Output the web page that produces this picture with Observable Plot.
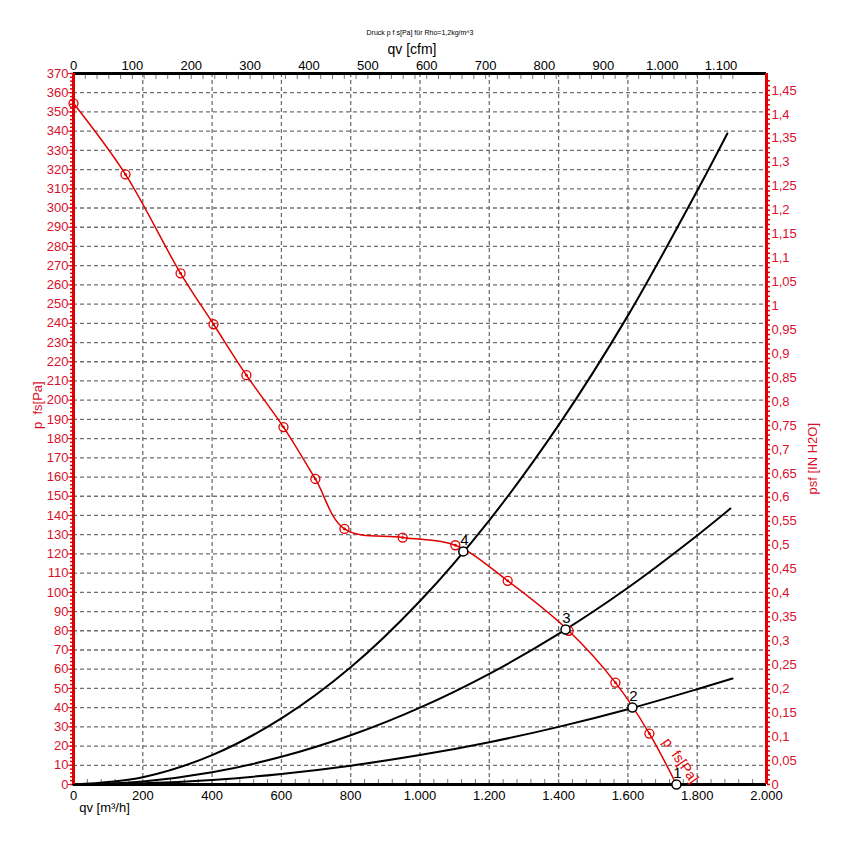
<!DOCTYPE html>
<html><head><meta charset="utf-8">
<script src="https://cdn.jsdelivr.net/npm/d3@7"></script>
<script src="https://cdn.jsdelivr.net/npm/@observablehq/plot@0.6"></script>
<style>body{margin:0;background:#fff} svg{display:block}</style>
</head><body><div id="chart"></div>
<script>
// ---- data ----
const fanQ = [0, 150, 309, 404, 499, 606, 698, 782, 950, 1102, 1253, 1429, 1564, 1662, 1740];
const fanP = [354.5, 317.5, 266, 239.5, 213, 186, 159, 133, 128.5, 124.5, 106, 80, 53, 26.5, 0];
const markerCount = 14; // red ring markers (the last point is operating point 1)

const opLabels = ["1", "2", "3", "4"];
const opQ = [1740, 1613, 1420, 1125];
const opP = [0, 40.1, 80.7, 121.3];

const sys1Q = [0, 400, 800, 1200, 1600, 1900];
const sys1P = [0, 0, 0, 0, 0, 0];
const sys2Q = [0, 200, 400, 600, 800, 1000, 1200, 1400, 1600, 1800, 1902];
const sys2P = [0, 0.6, 2.4, 5.5, 9.8, 15.3, 22, 30, 39.2, 49.6, 55.2];
const sys3Q = [0, 200, 400, 600, 800, 1000, 1200, 1400, 1600, 1800, 1896];
const sys3P = [0, 1.6, 6.4, 14.4, 25.6, 40, 57.6, 78.4, 102.4, 129.6, 143.6];
const sys4Q = [0, 200, 400, 600, 800, 1000, 1200, 1400, 1600, 1800, 1887];
const sys4P = [0, 3.8, 15.3, 34.4, 61, 95.5, 137.5, 187, 244, 309, 338.8];

// tick labels
const xTicks = [0, 200, 400, 600, 800, 1000, 1200, 1400, 1600, 1800, 2000];
const yTicks = d3.range(0, 371, 10);
const cfmTicks = [0, 100, 200, 300, 400, 500, 600, 700, 800, 900, 1000, 1100];
const inTicks = d3.range(0, 30).map(i => +(i * 0.05).toFixed(2));

const titleText = "Druck p f s[Pa] für Rho=1,2kg/m^3";
const topLabel = "qv [cfm]";
const bottomLabel = "qv [m³/h]";
const leftLabel = "p  fs[Pa]";
const rightLabel = "psf [IN H2O]";
const curveLabel = "p  fs[Pa]";

// unit conversions
const CFM = 1.69901;    // m³/h per cfm
const INH2O = 249.089;  // Pa per inch H2O

const RED = "#e00000";
const TRED = "#d8102c";

const de = d3.formatLocale({decimal: ",", thousands: ".", grouping: [3], currency: ["", "€"]});
const fmtThousands = de.format(",d");
const fmtComma = v => String(+v.toFixed(2)).replace(".", ",");

const toRows = (Q, P) => Q.map((q, i) => ({q, p: P[i]}));
const fan = toRows(fanQ, fanP);
const markers = fan.slice(0, markerCount);
const ops = opQ.map((q, i) => ({q, p: opP[i], label: opLabels[i]}));
const systems = [toRows(sys1Q, sys1P), toRows(sys2Q, sys2P), toRows(sys3Q, sys3P), toRows(sys4Q, sys4P)];

const gridStyle = {stroke: "#707070", strokeOpacity: 1, strokeDasharray: "4,3", strokeWidth: 1.3};

const chart = Plot.plot({
  width: 843, height: 859,
  marginLeft: 73, marginRight: 77, marginTop: 73, marginBottom: 75,
  style: {fontFamily: "'Liberation Sans', Arial, sans-serif", fontSize: "13px", background: "#fff", overflow: "visible"},
  x: {domain: [0, 2000], axis: null},
  y: {domain: [0, 370], axis: null},
  marks: [
    Plot.gridY(yTicks.filter(d => d > 0 && d < 370), gridStyle),
    Plot.gridX(xTicks.filter(d => d > 0 && d < 2000), gridStyle),

    // minor ticks
    Plot.axisX(d3.range(0, 2001, 40), {anchor: "bottom", tickSize: -5, tickFormat: () => "", color: "#777", label: null}),
    Plot.axisX(d3.range(0, 1121, 20).map(c => c * CFM), {anchor: "top", tickSize: -5, tickFormat: () => "", color: "#777", label: null}),
    Plot.axisY(d3.range(0, 371, 2), {anchor: "left", tickSize: 3, tickFormat: () => "", color: RED, strokeWidth: 1.5, label: null}),
    Plot.axisY(d3.range(0, 148).map(i => i * 0.01 * INH2O), {anchor: "right", tickSize: 3, tickFormat: () => "", color: RED, strokeWidth: 1.5, label: null}),

    // labelled axes
    Plot.axisX(xTicks, {anchor: "bottom", tickSize: 0, tickPadding: 6, tickFormat: fmtThousands, color: "#000", label: null, fontSize: 13}),
    Plot.axisX(cfmTicks.map(c => c * CFM), {anchor: "top", tickSize: 0, tickPadding: 4, tickFormat: d => fmtThousands(Math.round(d / CFM)), color: "#000", label: null, fontSize: 13}),
    Plot.axisY(yTicks, {anchor: "left", tickSize: 5, tickPadding: 0, tickFormat: d => d, color: TRED, label: null, fontSize: 13}),
    Plot.axisY(inTicks.map(v => v * INH2O), {anchor: "right", tickSize: 0, tickPadding: 5, tickFormat: d => fmtComma(d / INH2O), color: TRED, label: null, fontSize: 13}),

    // frame lines
    Plot.ruleY([370], {stroke: "#000", strokeWidth: 3}),
    Plot.ruleY([0], {stroke: "#000", strokeWidth: 3}),

    // system curves
    ...systems.map(s => Plot.line(s, {x: "q", y: "p", stroke: "#000", strokeWidth: 2, curve: "catmull-rom"})),

    Plot.ruleX([0], {stroke: RED, strokeWidth: 3}),
    Plot.ruleX([2000], {stroke: RED, strokeWidth: 3}),

    // fan curve
    Plot.line(fan, {x: "q", y: "p", stroke: RED, strokeWidth: 1.5, curve: "catmull-rom"}),
    Plot.dot(markers, {x: "q", y: "p", r: 4.5, stroke: RED, strokeWidth: 1.3, fill: "none"}),
    Plot.dot(markers, {x: "q", y: "p", r: 1.4, fill: RED}),
    Plot.text([markers[markers.length - 1]], {x: "q", y: "p", text: () => curveLabel, rotate: 55, dx: 31, dy: 27, fill: RED, fontSize: 14}),

    // operating points
    Plot.dot(ops, {x: "q", y: "p", r: 4.5, stroke: "#000", strokeWidth: 1.5, fill: "#fff"}),
    Plot.text(ops, {x: "q", y: "p", text: "label", dx: 1, dy: -11, fill: "#000", fontSize: 15}),

    // titles
    Plot.text([titleText], {frameAnchor: "top", dy: -43, text: d => d, fontSize: 7, fill: "#000"}),
    Plot.text([topLabel], {frameAnchor: "top", dy: -29, dx: -8, text: d => d, fontSize: 14, fill: "#000"}),
    Plot.text([bottomLabel], {frameAnchor: "bottom-left", dy: 27, dx: 31, textAnchor: "middle", text: d => d, fontSize: 13, fill: "#000"}),
    Plot.text([leftLabel], {frameAnchor: "left", dx: -36, dy: 0, rotate: -90, text: d => d, fontSize: 13, fill: TRED}),
    Plot.text([rightLabel], {frameAnchor: "right", dx: 46, dy: -6, rotate: -90, text: d => d, fontSize: 13, fill: TRED})
  ]
});
document.getElementById("chart").appendChild(chart);
</script>
</body></html>
